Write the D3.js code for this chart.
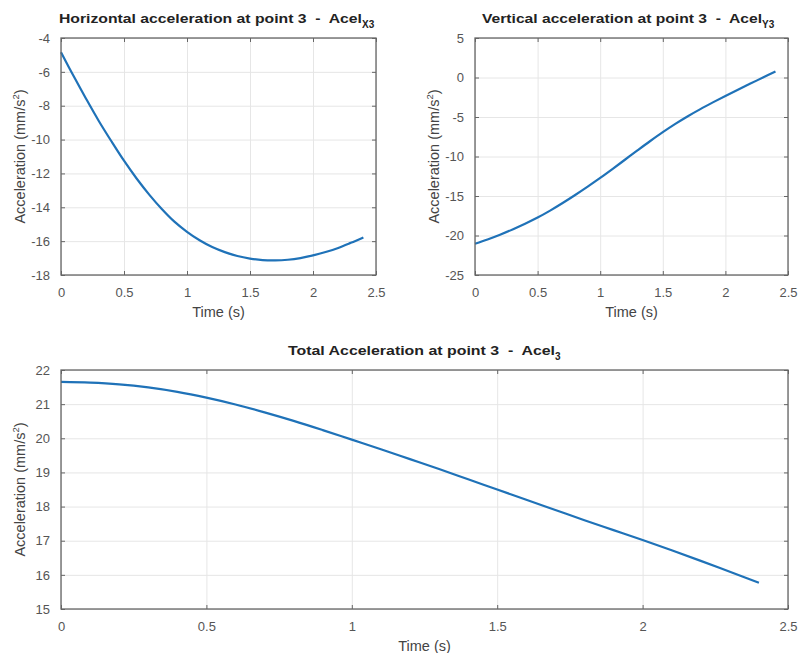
<!DOCTYPE html>
<html lang="en">
<head>
<meta charset="utf-8">
<title>Acceleration at point 3</title>
<script src="https://d3js.org/d3.v7.min.js"></script>
<style>
  body { margin: 0; background: #fff; }
  text { font-family: "Liberation Sans", Arial, sans-serif; white-space: pre; }
</style>
</head>
<body>
<script>
// time samples (s)
var time = [0, 0.1, 0.2, 0.3, 0.4, 0.5, 0.6, 0.7, 0.8, 0.9, 1.0, 1.1, 1.2,
            1.3, 1.4, 1.5, 1.6, 1.7, 1.8, 1.9, 2.0, 2.1, 2.2, 2.3, 2.4];

// values (mm/s^2)
var acelX3 = [-4.84, -6.25, -7.6, -8.9, -10.1, -11.25, -12.3, -13.25, -14.1, -14.85,
              -15.45, -15.95, -16.35, -16.65, -16.88, -17.03, -17.12, -17.14, -17.1, -17.0,
              -16.84, -16.64, -16.4, -16.1, -15.78];
var acelY3 = [-21.05, -20.5, -19.9, -19.23, -18.51, -17.73, -16.85, -15.89, -14.87, -13.81,
              -12.71, -11.56, -10.38, -9.2, -8.04, -6.92, -5.87, -4.9, -4.0, -3.15,
              -2.33, -1.54, -0.77, 0.0, 0.77];
var acel3 = [21.65, 21.63, 21.58, 21.49, 21.36, 21.19, 20.99, 20.76, 20.51, 20.24,
             19.96, 19.68, 19.39, 19.1, 18.8, 18.5, 18.2, 17.9, 17.6, 17.31,
             17.02, 16.72, 16.41, 16.09, 15.77];

// tick labels
var timeTicks = [0, 0.5, 1, 1.5, 2, 2.5];
var ticksX3 = [-18, -16, -14, -12, -10, -8, -6, -4];
var ticksY3 = [-25, -20, -15, -10, -5, 0, 5];
var ticksTotal = [15, 16, 17, 18, 19, 20, 21, 22];

var svg = d3.select("body").append("svg")
    .attr("width", 800)
    .attr("height", 653);

function panel(cfg) {
  var x = d3.scaleLinear().domain([0, 2.5]).range([cfg.left, cfg.right]);
  var y = d3.scaleLinear().domain([cfg.yTicks[0], cfg.yTicks[cfg.yTicks.length - 1]])
      .range([cfg.bottom, cfg.top]);
  var w = cfg.right - cfg.left, h = cfg.bottom - cfg.top;
  var g = svg.append("g");
  var fmt = function(d) { return String(d); };

  // grid
  g.append("g").attr("transform", "translate(0," + cfg.bottom + ")")
    .call(d3.axisBottom(x).tickValues(timeTicks).tickSize(-h).tickFormat(""))
    .call(function(s) { s.select(".domain").remove(); s.selectAll("line").attr("stroke", "#e6e6e6"); });
  g.append("g").attr("transform", "translate(" + cfg.left + ",0)")
    .call(d3.axisLeft(y).tickValues(cfg.yTicks).tickSize(-w).tickFormat(""))
    .call(function(s) { s.select(".domain").remove(); s.selectAll("line").attr("stroke", "#e6e6e6"); });

  // line
  var line = d3.line().x(function(d, i) { return x(time[i]); }).y(function(d) { return y(d); })
      .curve(d3.curveCatmullRom);
  g.append("path").datum(cfg.values)
    .attr("fill", "none").attr("stroke", "#1f72b8").attr("stroke-width", 2.2)
    .attr("d", line);

  // axes with inward ticks on all four sides
  function style(s) {
    s.select(".domain").remove();
    s.selectAll("line").attr("stroke", "#666");
    s.selectAll("text").attr("fill", "#555").style("font-size", "13px");
  }
  g.append("g").attr("transform", "translate(0," + cfg.bottom + ")")
    .call(d3.axisBottom(x).tickValues(timeTicks).tickSize(-4).tickPadding(13).tickFormat(fmt))
    .call(style);
  g.append("g").attr("transform", "translate(0," + cfg.top + ")")
    .call(d3.axisTop(x).tickValues(timeTicks).tickSize(-4).tickFormat(""))
    .call(style);
  g.append("g").attr("transform", "translate(" + cfg.left + ",0)")
    .call(d3.axisLeft(y).tickValues(cfg.yTicks).tickSize(-4).tickPadding(11).tickFormat(fmt))
    .call(style);
  g.append("g").attr("transform", "translate(" + cfg.right + ",0)")
    .call(d3.axisRight(y).tickValues(cfg.yTicks).tickSize(-4).tickFormat(""))
    .call(style);

  g.append("rect")
    .attr("x", cfg.left).attr("y", cfg.top).attr("width", w).attr("height", h)
    .attr("fill", "none").attr("stroke", "#666").attr("stroke-width", 1.3);

  // title
  var t = g.append("text")
    .attr("x", cfg.titleX).attr("y", cfg.top - 15)
    .style("font-size", "13px").style("font-weight", "bold").attr("fill", "#222");
  t.append("tspan").attr("textLength", cfg.titleLen).attr("lengthAdjust", "spacingAndGlyphs")
    .text(cfg.title);
  t.append("tspan").attr("dy", 5).style("font-size", "10px").text(cfg.sub);

  // axis labels
  g.append("text")
    .attr("x", (cfg.left + cfg.right) / 2).attr("y", cfg.bottom + 42)
    .attr("text-anchor", "middle").attr("fill", "#444").style("font-size", "14.5px")
    .text("Time (s)");
  var yl = g.append("text")
    .attr("transform", "translate(" + (cfg.left - 36) + "," + ((cfg.top + cfg.bottom) / 2) + ") rotate(-90)")
    .attr("text-anchor", "middle").attr("fill", "#444").style("font-size", "14.5px");
  yl.append("tspan").text("Acceleration (mm/s");
  yl.append("tspan").attr("dy", -6).style("font-size", "9.5px").text("2");
  yl.append("tspan").attr("dy", 6).text(")");
}

panel({ left: 61, right: 376, top: 38, bottom: 275, values: acelX3, yTicks: ticksX3,
        title: "Horizontal acceleration at point 3  -  Acel", sub: "X3", titleX: 59, titleLen: 303 });
panel({ left: 475, right: 788, top: 38, bottom: 275, values: acelY3, yTicks: ticksY3,
        title: "Vertical acceleration at point 3  -  Acel", sub: "Y3", titleX: 482, titleLen: 280 });
panel({ left: 61, right: 788, top: 370, bottom: 609, values: acel3, yTicks: ticksTotal,
        title: "Total Acceleration at point 3  -  Acel", sub: "3", titleX: 288, titleLen: 267 });
</script>
</body>
</html>
